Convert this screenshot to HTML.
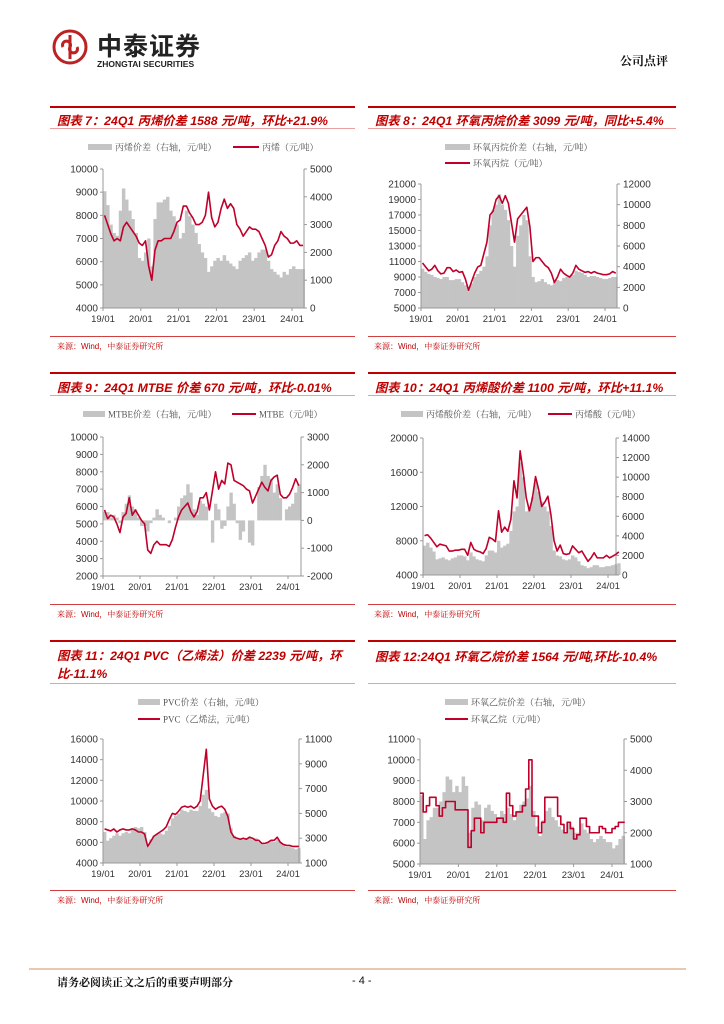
<!DOCTYPE html>
<html><head><meta charset="utf-8">
<style>
html,body{margin:0;padding:0;background:#fff;}
body{width:724px;height:1024px;position:relative;overflow:hidden;font-family:"Liberation Sans","Noto Sans CJK SC",sans-serif;}
.abs{position:absolute;}
.ttl{position:absolute;color:#c00000;font-weight:bold;font-style:italic;font-size:12.3px;white-space:nowrap;}
.tline{position:absolute;height:2px;background:#c00000;}
.uline{position:absolute;height:1px;background:#e8a0a0;}
.src{position:absolute;font-size:8px;color:#c00000;font-family:"Liberation Sans","Noto Serif CJK SC",serif;}
</style></head>
<body>
<div class="abs" style="left:52px;top:29px;width:36px;height:36px;">
<svg width="36" height="36" viewBox="0 0 36 36"><circle cx="18" cy="18" r="16" fill="none" stroke="#b22" stroke-width="3"/><path d="M18 6 V30 M11 18 a4 4 0 1 1 7 0 a4 4 0 1 0 7 0" fill="none" stroke="#b22" stroke-width="3"/></svg></div>
<div class="abs" style="left:97px;top:30px;font-size:25px;font-weight:bold;color:#222;font-family:'Noto Sans CJK SC',sans-serif;letter-spacing:1px;line-height:30px;">中泰证券</div>
<div class="abs" style="left:97px;top:59px;font-size:8.5px;font-weight:bold;color:#222;">ZHONGTAI SECURITIES</div>
<div class="abs" style="left:620px;top:52px;font-size:12px;font-weight:bold;color:#111;font-family:'Noto Serif CJK SC',serif;">公司点评</div>

<div class="tline" style="left:50px;top:106px;width:305px;"></div>
<div class="ttl" style="left:57px;top:111px;">图表 7：24Q1 丙烯价差 1588 元/吨，环比+21.9%</div>
<div class="uline" style="left:50px;top:128px;width:305px;"></div>
<div class="tline" style="left:368px;top:106px;width:308px;"></div>
<div class="ttl" style="left:375px;top:111px;">图表 8：24Q1 环氧丙烷价差 3099 元/吨，同比+5.4%</div>
<div class="uline" style="left:368px;top:128px;width:308px;"></div>

<div class="tline" style="left:50px;top:372px;width:305px;"></div>
<div class="ttl" style="left:57px;top:378px;">图表 9：24Q1 MTBE 价差 670 元/吨，环比-0.01%</div>
<div class="uline" style="left:50px;top:395px;width:305px;"></div>
<div class="tline" style="left:368px;top:372px;width:308px;"></div>
<div class="ttl" style="left:375px;top:378px;">图表 10：24Q1 丙烯酸价差 1100 元/吨，环比+11.1%</div>
<div class="uline" style="left:368px;top:395px;width:308px;"></div>

<div class="tline" style="left:50px;top:640px;width:305px;"></div>
<div class="ttl" style="left:57px;top:647px;line-height:18px;">图表 11：24Q1 PVC（乙烯法）价差 2239 元/吨，环<br>比-11.1%</div>
<div class="uline" style="left:50px;top:683px;width:305px;"></div>
<div class="tline" style="left:368px;top:640px;width:308px;"></div>
<div class="ttl" style="left:375px;top:647px;">图表 12:24Q1 环氧乙烷价差 1564 元/吨,环比-10.4%</div>
<div class="uline" style="left:368px;top:683px;width:308px;"></div>

<div class="uline" style="left:50px;top:336px;width:305px;background:#d04040;"></div>
<div class="src" style="left:57px;top:341px;">来源：Wind，中泰证券研究所</div>
<div class="uline" style="left:368px;top:336px;width:308px;background:#d04040;"></div>
<div class="src" style="left:374px;top:341px;">来源：Wind，中泰证券研究所</div>
<div class="uline" style="left:50px;top:604px;width:305px;background:#d04040;"></div>
<div class="src" style="left:57px;top:609px;">来源：Wind，中泰证券研究所</div>
<div class="uline" style="left:368px;top:604px;width:308px;background:#d04040;"></div>
<div class="src" style="left:374px;top:609px;">来源：Wind，中泰证券研究所</div>
<div class="uline" style="left:50px;top:890px;width:305px;background:#d04040;"></div>
<div class="src" style="left:57px;top:895px;">来源：Wind，中泰证券研究所</div>
<div class="uline" style="left:368px;top:890px;width:308px;background:#d04040;"></div>
<div class="src" style="left:374px;top:895px;">来源：Wind，中泰证券研究所</div>

<div class="abs" style="left:29px;top:968px;width:657px;height:2px;background:#e8c8b0;"></div>
<div class="abs" style="left:57px;top:974px;font-size:11px;font-weight:bold;color:#111;font-family:'Noto Serif CJK SC',serif;">请务必阅读正文之后的重要声明部分</div>
<div class="abs" style="left:352px;top:975px;font-size:11px;color:#111;">- 4 -</div>

<svg id="charts" width="724" height="1024" style="position:absolute;left:0;top:0;"></svg>

<script>
const xTickLabels = ["19/01","20/01","21/01","22/01","23/01","24/01"];

const c7Line = [8000,7600,7200,6900,7000,6900,7500,7700,7500,7300,7100,6800, 6700,6900,5800,5200,6500,6900,6900,7000,7000,7000,7300,7700, 7800,8400,8400,8100,7900,7600,7600,7700,8000,9000,7900,7500, 7700,8300,8700,8300,8500,8300,7600,7400,7100,7300,7500,7400, 7400,7300,7000,6700,6200,6300,6700,6900,7300,7100,7000,6800, 6800,6900,6700,6700];
const c7Spread = [4200,3700,3000,2700,2600,3500,4300,3900,3500,3200,2700,1800, 1700,2000,2500,1500,3200,3800,3800,3900,4000,3500,3300,3000, 2500,2700,3500,3300,3000,2700,2300,2000,1800,1300,1500,1700, 1800,1700,1900,1700,1600,1500,1400,1700,1800,1900,2000,1700, 1800,2000,2100,2100,1700,1400,1300,1200,1100,1300,1200,1400, 1500,1400,1400,1400];

const c8Line = [10800,10300,9800,10000,10500,9800,9400,9500,10200,10200,9700,9900, 9600,9700,8700,7300,8400,9500,10300,10500,12000,13500,17000,17500, 19000,19500,18500,19500,18500,16000,13500,16500,17000,17500,18000,15500, 11000,11500,11500,11000,10500,10200,9500,8300,9000,10000,9500,9200, 9000,9500,10500,10000,9800,9600,9700,9500,9700,9500,9400,9300, 9300,9400,9700,9500];
const c8Spread = [3800,3500,3300,3200,3000,2900,2800,3000,3000,2700,2700,2800, 2800,2500,2200,1800,2400,3000,3300,3600,4000,5000,8000,9500, 10000,11000,10000,9500,8500,6000,4000,7000,8000,9000,8500,5000, 3000,2500,2600,2800,2500,2300,2200,2500,2700,2600,2900,3000, 3100,3200,3600,3500,3400,3200,3000,3100,3100,3000,2900,2800, 2800,2900,3000,3000];

const c9Line = [5800,5300,5500,5400,5000,4500,5400,5600,6500,5500,5800,5500, 5200,5000,3500,3300,3800,4000,3800,3800,3800,3700,4100,4800, 5400,5800,6000,6200,5700,5400,5700,6500,6500,6800,5800,6900, 8000,7000,7500,7300,8500,8400,7500,7400,7300,7200,7000,6900, 6200,6600,7000,7400,7100,6900,7500,7700,7800,6700,6500,6500, 6700,7100,7600,7200];
const c9Spread = [300,300,100,200,100,-100,300,600,900,500,400,100, -200,-200,-400,-100,100,400,200,100,0,-100,0,100, 500,800,900,1300,1000,400,200,700,600,500,0,-800, 600,400,-300,-200,500,1000,600,-100,-700,-400,0,-800, -900,0,1200,1600,2000,1600,1500,1000,1300,800,0,400, 500,600,1000,1300];

const c10Line = [8600,8700,8300,7800,7300,7600,7500,7400,6800,6800,6900,6900, 7000,7000,6300,7800,7000,6800,6700,6500,7100,8400,8200,7900, 11500,9000,9600,9100,10500,15000,13000,18500,16000,13000,11500,13000, 15500,14000,12000,12500,13200,11000,8000,6800,7500,6500,6400,6500, 7400,7000,6600,6800,6200,5600,6000,6600,6000,6000,6000,6300, 6000,6200,6400,6700];
const c10Spread = [3000,3300,2800,2400,1600,1700,1800,1600,1500,1700,1800,2000, 2000,1900,1500,2300,1900,1600,1500,1400,2000,2500,2500,2300, 3500,2800,3000,3200,4500,6500,7000,11500,10000,6500,7000,8000, 9500,8500,7500,7000,6500,5000,2500,2000,1900,1600,1500,1600, 2000,1800,1400,1000,900,700,800,1000,1000,800,800,900, 900,1000,1100,1200];

const c11Line = [7300,7200,7100,7300,7000,7200,7300,7200,7200,7300,7200,7000, 7000,6800,5600,6100,6600,6800,7000,7200,7500,8200,8800,8700, 9000,9400,9500,9400,9500,9300,9500,10000,12500,15000,10200,9500, 9200,9400,9500,9200,8500,7000,6500,6400,6300,6400,6300,6500, 6400,6200,6200,5900,5900,6000,6200,6200,6500,6000,5800,5700, 5700,5600,5600,5600];
const c11Spread = [3500,2800,3000,3200,3400,3200,3400,3500,3400,3800,3900,3800, 3900,3500,2300,2900,3200,3300,3400,3300,3600,4000,4600,4800, 5000,5300,5200,5100,5300,5200,5200,5600,6500,6900,5400,5100, 4800,4700,5000,5100,5000,3800,3200,3000,2900,2900,3000,3100, 2900,3000,2700,2600,2500,2700,2800,2700,2900,2700,2500,2300, 2300,2200,2100,2200];

const c12Line = [8400,7500,7800,8200,8200,7800,7300,7700,8000,8000,8000,7600, 7600,7600,7600,5800,6600,7200,7200,6500,7000,7000,7000,7000, 7200,7200,7000,8400,7800,7300,7500,7500,7800,8600,10000,7300, 7300,6500,7000,8200,8200,8200,8200,7300,6900,6500,7000,6700, 6200,6400,7200,7200,6800,6500,6500,6500,6800,6700,6500,6500, 6700,6800,7000,7000];
const c12Spread = [3200,1800,2400,2500,2800,2800,3000,3300,3800,3700,3300,3500, 3300,3800,3500,2000,2800,3000,2900,2400,2800,2900,2700,2600, 2500,2700,2600,2800,2600,2400,2700,2900,3000,3100,3500,2700, 2200,1900,2400,2700,2800,2500,2400,2200,2100,2000,2300,2200, 2000,2000,2300,2100,2000,1800,1700,1800,1900,1800,1700,1700, 1500,1600,1800,1900];

const NS = "http://www.w3.org/2000/svg";
const root = document.getElementById('charts');
function mk(tag, attrs, parent){
  const e = document.createElementNS(NS, tag);
  for (const k in attrs) e.setAttribute(k, attrs[k]);
  (parent||root).appendChild(e);
  return e;
}
function fmt(v){ return String(v); }

function drawChart(id, cfg, line, spread){
  const g = mk('g', {});
  
  
  const {x0,x1,yT,yB,lMin,lMax,lStep,rMin,rMax,rStep,yearPx,step} = cfg;
  const mpx = yearPx/12;
  const X = i => x0 + i*mpx;
  const YL = v => yB - (v-lMin)/(lMax-lMin)*(yB-yT);
  const YR = v => yB - (v-rMin)/(rMax-rMin)*(yB-yT);
  const base = Math.max(rMin, Math.min(rMax, 0));
  spread.forEach((v,i)=>{
    const a = YR(Math.max(v,base)), b = YR(Math.min(v,base));
    const r = mk('rect', {x:X(i).toFixed(2), y:a.toFixed(2), width:(mpx+0.3).toFixed(2), height:Math.max(0,b-a).toFixed(2), fill:'#c4c4c4'}, g);
    
    
  });
  mk('line', {x1:x0, y1:yT, x2:x0, y2:yB, stroke:'#999', 'stroke-width':1}, g);
  mk('line', {x1:x1, y1:yT, x2:x1, y2:yB, stroke:'#999', 'stroke-width':1}, g);
  mk('line', {x1:x0, y1:yB, x2:x1, y2:yB, stroke:'#999', 'stroke-width':1}, g);
  for (let v=lMin; v<=lMax+0.1; v+=lStep){
    const y = YL(v);
    mk('line', {x1:x0-3, y1:y, x2:x0, y2:y, stroke:'#999'}, g);
    const t = mk('text', {x:x0-5, y:y+3.5, 'text-anchor':'end', 'font-size':10, fill:'#333', 'font-family':'Liberation Sans, sans-serif'}, g);
    t.textContent = fmt(v);
    
    
  }
  for (let v=rMin; v<=rMax+0.1; v+=rStep){
    const y = YR(v);
    mk('line', {x1:x1, y1:y, x2:x1+3, y2:y, stroke:'#999'}, g);
    const t = mk('text', {x:x1+6, y:y+3.5, 'font-size':10, fill:'#333', 'font-family':'Liberation Sans, sans-serif'}, g);
    t.textContent = fmt(v);
    
    
  }
  xTickLabels.forEach((lab,k)=>{
    const x = x0 + k*yearPx;
    mk('line', {x1:x, y1:yB, x2:x, y2:yB+3, stroke:'#999'}, g);
    const t = mk('text', {x:x, y:yB+14, 'text-anchor':'middle', 'font-size':9.5, fill:'#333', 'font-family':'Liberation Sans, sans-serif'}, g);
    t.textContent = lab;
    
    
  });
  let pts = [];
  line.forEach((v,i)=>{
    if (step){
      pts.push(X(i).toFixed(2)+','+YL(v).toFixed(2));
      pts.push(X(i+1).toFixed(2)+','+YL(v).toFixed(2));
    } else pts.push((X(i)+mpx/2).toFixed(2)+','+YL(v).toFixed(2));
  });
  const pl = mk('polyline', {points:pts.join(' '), fill:'none', stroke:'#c0002a', 'stroke-width':1.6, 'stroke-linejoin':'round'}, g);
  
  
  cfg.legend.forEach(L=>{
    if (L.type==='bar') mk('rect', {x:L.x, y:L.y-3, width:L.w, height:6, fill:'#c4c4c4'}, g);
    else mk('line', {x1:L.x, y1:L.y, x2:L.x+L.w, y2:L.y, stroke:'#c0002a', 'stroke-width':2}, g);
    const t = mk('text', {x:L.x+L.w+3, y:L.y+3.5, 'font-size':9, fill:'#555', 'font-family':'Liberation Serif, Noto Serif CJK SC, serif'}, g);
    t.textContent = L.text;
    
    
  });
}

drawChart('chart-7-propylene', {x0:103,x1:304,yT:169,yB:308,lMin:4000,lMax:10000,lStep:1000,rMin:0,rMax:5000,rStep:1000,yearPx:37.8,
  legend:[{type:'bar',x:88,y:147,w:24,text:'丙烯价差（右轴，元/吨）'},{type:'line',x:233,y:147,w:26,text:'丙烯（元/吨）'}]}, c7Line, c7Spread);
drawChart('chart-8-propylene-oxide', {x0:421,x1:617,yT:184,yB:308,lMin:5000,lMax:21000,lStep:2000,rMin:0,rMax:12000,rStep:2000,yearPx:36.8,
  legend:[{type:'bar',x:445,y:147,w:25,text:'环氧丙烷价差（右轴，元/吨）'},{type:'line',x:445,y:163,w:25,text:'环氧丙烷（元/吨）'}]}, c8Line, c8Spread);
drawChart('chart-9-mtbe', {x0:103,x1:301,yT:437,yB:576,lMin:2000,lMax:10000,lStep:1000,rMin:-2000,rMax:3000,rStep:1000,yearPx:37,
  legend:[{type:'bar',x:83,y:414,w:22,text:'MTBE价差（右轴，元/吨）'},{type:'line',x:232,y:414,w:24,text:'MTBE（元/吨）'}]}, c9Line, c9Spread);
drawChart('chart-10-acrylic-acid', {x0:423,x1:616,yT:438,yB:575,lMin:4000,lMax:20000,lStep:4000,rMin:0,rMax:14000,rStep:2000,yearPx:37,
  legend:[{type:'bar',x:401,y:414,w:22,text:'丙烯酸价差（右轴，元/吨）'},{type:'line',x:548,y:414,w:24,text:'丙烯酸（元/吨）'}]}, c10Line, c10Spread);
drawChart('chart-11-pvc', {x0:103,x1:299,yT:739,yB:863,lMin:4000,lMax:16000,lStep:2000,rMin:1000,rMax:11000,rStep:2000,yearPx:37,
  legend:[{type:'bar',x:138,y:702,w:22,text:'PVC价差（右轴，元/吨）'},{type:'line',x:138,y:719,w:22,text:'PVC（乙烯法，元/吨）'}]}, c11Line, c11Spread);
drawChart('chart-12-ethylene-oxide', {x0:420,x1:624,yT:739,yB:864,lMin:5000,lMax:11000,lStep:1000,rMin:1000,rMax:5000,rStep:1000,yearPx:38.4,step:true,
  legend:[{type:'bar',x:445,y:702,w:23,text:'环氧乙烷价差（右轴，元/吨）'},{type:'line',x:445,y:719,w:23,text:'环氧乙烷（元/吨）'}]}, c12Line, c12Spread);
</script>
</body></html>
